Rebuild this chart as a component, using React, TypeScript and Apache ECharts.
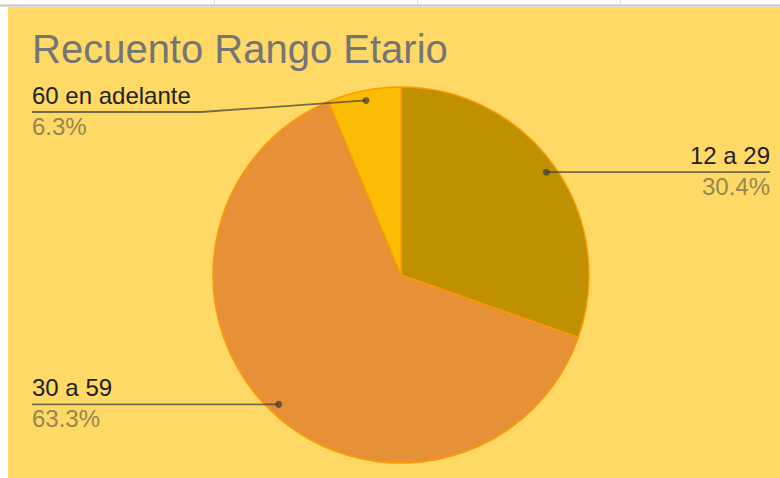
import React, { useEffect, useRef } from "react";
import * as echarts from "echarts";

const categories = ["12 a 29", "30 a 59", "60 en adelante"];
const values = [30.4, 63.3, 6.3];
const colors = ["#BF9000", "#E69138", "#FBBC04"];
const titleText = "Recuento Rango Etario";

const W = 780;
const H = 478;
const CX = 401;
const CY = 275;
const R = 188;
const FONT = 'Arial, "Liberation Sans", sans-serif';
const LINE_COLOR = "rgba(60,60,60,0.7)";
const LABEL_MIN_Y = 112;

function midAngles(): number[] {
  const total = values.reduce((a, b) => a + b, 0);
  let acc = 0;
  return values.map((v) => {
    const mid = (acc + v / 2) / total;
    acc += v;
    return mid * Math.PI * 2;
  });
}

function guide(i: number) {
  const a = midAngles()[i];
  const r = R * 0.947;
  const dx = CX + r * Math.sin(a);
  const dy = CY - r * Math.cos(a);
  const isRight = dx > CX;
  const labelY = Math.max(dy, LABEL_MIN_Y);
  const edgeX = isRight ? 770 : 32;
  const bendX = isRight ? CX + R + 12 : CX - R - 12;
  return {
    dot: [dx, dy],
    isRight,
    labelY,
    edgeX,
    points: [
      [dx, dy],
      [bendX, labelY],
      [edgeX, labelY],
    ],
  };
}

export default function App() {
  const ref = useRef<HTMLDivElement>(null);
  useEffect(() => {
    if (!ref.current) return;
    const chart = echarts.init(ref.current, undefined, { renderer: "svg" });
    const guides = categories.map((_, i) => guide(i));
    const gridX = [214, 417, 620];
    const option: any = {
      animation: false,
      backgroundColor: "#ffffff",
      title: {
        text: titleText,
        left: 27,
        top: 24,
        textStyle: {
          fontSize: 40,
          color: "#757575",
          fontWeight: "normal",
          fontFamily: FONT,
        },
      },
      graphic: [
        {
          type: "rect",
          z: -10,
          shape: { x: 8, y: 7, width: W - 8, height: H - 7 },
          style: { fill: "#FFD966" },
        },
        {
          type: "line",
          z: -5,
          shape: { x1: 0, y1: 5.5, x2: W, y2: 5.5 },
          style: { stroke: "#c4c4c4", lineWidth: 2 },
        },
        ...gridX.map((x) => ({
          type: "line",
          z: -5,
          shape: { x1: x + 0.5, y1: 0, x2: x + 0.5, y2: 5 },
          style: { stroke: "#e0e0e0", lineWidth: 1 },
        })),
        ...guides.map((g) => ({
          type: "polyline",
          z: 100,
          shape: { points: g.points },
          style: { stroke: LINE_COLOR, lineWidth: 1.8, fill: null },
        })),
        ...guides.map((g) => ({
          type: "circle",
          z: 101,
          shape: { cx: g.dot[0], cy: g.dot[1], r: 3.5 },
          style: { fill: LINE_COLOR },
        })),
      ],
      series: [
        {
          type: "pie",
          center: [CX, CY],
          radius: R,
          startAngle: 90,
          clockwise: true,
          percentPrecision: 1,
          data: categories.map((name, i) => ({
            name,
            value: values[i],
            itemStyle: { color: colors[i] },
          })),
          itemStyle: { borderColor: "#FF9900", borderWidth: 1.5 },
          label: {
            show: true,
            formatter: "{n|{b}}\n{p|{d}%}",
            rich: {
              n: {
                fontSize: 24,
                lineHeight: 31,
                color: "#222222",
                fontFamily: FONT,
              },
              p: {
                fontSize: 24,
                lineHeight: 31,
                color: "#968652",
                fontFamily: FONT,
              },
            },
          },
          labelLine: { show: false },
          labelLayout: (params: any) => {
            const g = guide(params.dataIndex);
            return {
              x: g.edgeX,
              y: g.labelY - 1.5,
              align: g.isRight ? "right" : "left",
              verticalAlign: "middle",
            };
          },
        },
      ],
    };
    chart.setOption(option);
    return () => chart.dispose();
  }, []);
  return (
    <div
      ref={ref}
      style={{ position: "fixed", left: 0, top: 0, width: W, height: H }}
    />
  );
}
